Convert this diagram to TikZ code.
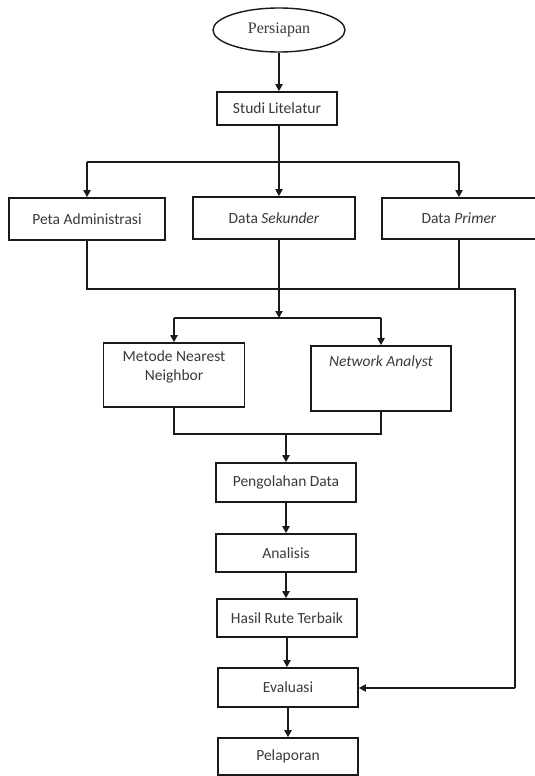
\documentclass[tikz,border=0pt]{standalone}
\usepackage{fontspec}
\setmainfont{Carlito}
\newfontfamily\serifpers{Liberation Serif}
\usetikzlibrary{arrows.meta,shapes.geometric}
\definecolor{txt}{HTML}{3A3A3A}
\definecolor{ln}{HTML}{1A1A1A}
\begin{document}
\begin{tikzpicture}[x=1pt,y=-1pt,
  box/.style={draw=ln,line width=1.6pt,rectangle,inner sep=0pt,text=txt,
    font=\fontsize{15.5}{19}\selectfont,align=center},
  conn/.style={draw=ln,line width=1.8pt},
  arr/.style={conn,-{Triangle[length=7pt,width=7pt]}}]
\fill[white] (0,0) rectangle (535,776);
\useasboundingbox (0,0) rectangle (535,776);

\node[draw=ln,line width=1.4pt,ellipse,inner sep=0pt,minimum width=132pt,minimum height=44pt,
  text=txt,font=\serifpers\fontsize{16}{19}\selectfont] (pers) at (279,30) {Persiapan};
\node[box,minimum width=120pt,minimum height=33pt] (studi) at (277,108.5) {Studi Litelatur};

\node[box,minimum width=156pt,minimum height=42pt] (peta) at (87,219) {Peta Administrasi};
\node[box,minimum width=162pt,minimum height=42pt] (sek) at (274,218) {Data \textit{Sekunder}};
\node[box,minimum width=154pt,minimum height=41pt] (prim) at (459,218.5) {Data \textit{Primer}};

\node[box,minimum width=141pt,minimum height=64pt,text depth=18pt] (mnn) at (174,375) {Metode Nearest\\Neighbor};
\node[box,minimum width=140pt,minimum height=65pt,text depth=34pt] (na) at (381,378.5) {\textit{Network Analyst}};

\node[box,minimum width=140pt,minimum height=39pt] (olah) at (286,482.5) {Pengolahan Data};
\node[box,minimum width=140pt,minimum height=38pt] (anal) at (286,553) {Analisis};
\node[box,minimum width=140pt,minimum height=38pt] (hasil) at (287,618) {Hasil Rute Terbaik};
\node[box,minimum width=140pt,minimum height=39pt] (eval) at (288,687.5) {Evaluasi};
\node[box,minimum width=140pt,minimum height=37pt] (lapor) at (288,756.5) {Pelaporan};

\coordinate (j1) at (279,162);
\coordinate (j1l) at (87,162);
\coordinate (j1r) at (459,162);
\coordinate (j2) at (279,318);
\coordinate (j2l) at (174,318);
\coordinate (j2r) at (381,318);
\coordinate (c1) at (87,289);
\coordinate (c2) at (515,289);
\coordinate (c3) at (515,688);
\coordinate (c4) at (459,289);
\coordinate (j3l) at (174,434);
\coordinate (j3r) at (381,434);
\coordinate (j3) at (286,434);

\draw[arr] (pers.south -| 279,0) -- (studi.north -| 279,0);
\draw[conn] (studi.south -| 279,0) -- (j1);
\draw[conn] (j1l) -- (j1r);
\draw[arr] (j1l) -- (peta.north);
\draw[arr] (j1) -- (sek.north -| j1);
\draw[arr] (j1r) -- (prim.north);

\draw[conn] (peta.south) -- (c1) -- (c2) -- (c3);
\draw[arr] (c3) -- (eval.east |- c3);
\draw[conn] (prim.south) -- (c4);
\draw[arr] (sek.south -| j1) -- (j2);
\draw[conn] (j2l) -- (j2r);
\draw[arr] (j2l) -- (mnn.north);
\draw[arr] (j2r) -- (na.north);

\draw[conn] (mnn.south) -- (j3l) -- (j3r) -- (na.south);
\draw[arr] (j3) -- (olah.north -| j3);
\draw[arr] (olah.south) -- (anal.north);
\draw[arr] (anal.south) -- (anal.south |- hasil.north);
\draw[arr] (hasil.south) -- (hasil.south |- eval.north);
\draw[arr] (eval.south) -- (lapor.north);
\end{tikzpicture}
\end{document}
